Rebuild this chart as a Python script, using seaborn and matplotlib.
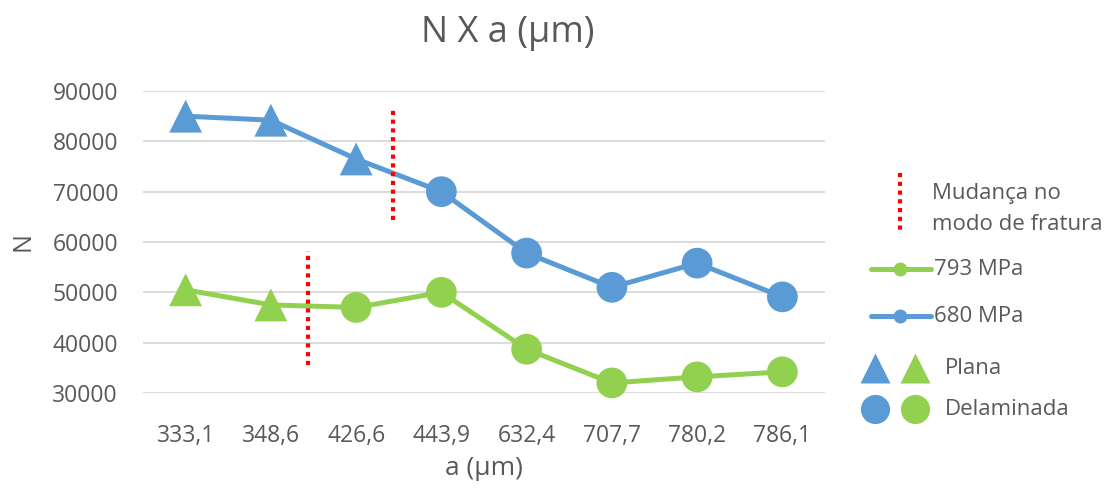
import matplotlib
matplotlib.use("Agg")
import matplotlib.pyplot as plt
import seaborn as sns
import pandas as pd
from matplotlib.lines import Line2D

# ---- data ----
categories = ["333,1", "348,6", "426,6", "443,9", "632,4", "707,7", "780,2", "786,1"]
n_680 = [85000, 84200, 76500, 70000, 57800, 51000, 55800, 49100]
n_793 = [50500, 47500, 47000, 50000, 38700, 32000, 33200, 34200]
mode_680 = ["Plana", "Plana", "Plana", "Delaminada", "Delaminada", "Delaminada", "Delaminada", "Delaminada"]
mode_793 = ["Plana", "Plana", "Delaminada", "Delaminada", "Delaminada", "Delaminada", "Delaminada", "Delaminada"]
# fracture mode change markers (category position, y from, y to)
change_pos = [2.43, 1.44]
change_ymin = [64400, 35500]
change_ymax = [86800, 58200]
yticks = [30000, 40000, 50000, 60000, 70000, 80000, 90000]

BLUE = "#5B9BD5"
GREEN = "#92D050"
RED = "#FF0000"
TXT = "#595959"
GRID = "#D9D9D9"

sns.set_theme(style="white")
plt.rcParams["font.family"] = ["Open Sans", "DejaVu Sans"]

rows = []
for i, c in enumerate(categories):
    rows.append(dict(pos=i, cat=c, N=n_680[i], series="680 MPa", mode=mode_680[i]))
    rows.append(dict(pos=i, cat=c, N=n_793[i], series="793 MPa", mode=mode_793[i]))
df = pd.DataFrame(rows)
palette = {"680 MPa": BLUE, "793 MPa": GREEN}

fig = plt.figure(figsize=(11.11, 4.9), dpi=100)
ax = fig.add_axes([143 / 1111, 1 - 393 / 490, (825 - 143) / 1111, (393 - 91) / 490])

sns.lineplot(data=df, x="pos", y="N", hue="series", palette=palette, linewidth=3.6,
             ax=ax, legend=False, zorder=3)
for mode, marker, s in [("Plana", "^", 560), ("Delaminada", "o", 490)]:
    sub = df[df["mode"] == mode]
    sns.scatterplot(data=sub, x="pos", y="N", hue="series", palette=palette, marker=marker,
                    s=s, linewidth=0, ax=ax, legend=False, zorder=4, clip_on=False)

for x, y0, y1 in zip(change_pos, change_ymin, change_ymax):
    ax.plot([x, x], [y0, y1], color=RED, lw=3, linestyle=(0, (1, 1.1)),
            dash_capstyle="butt", zorder=5)

ax.set_xlim(-0.5, len(categories) - 0.5)
ax.set_ylim(30000, 90000)
ax.set_xticks(range(len(categories)))
ax.set_xticklabels(categories)
ax.set_yticks(yticks)
ax.set_yticklabels([str(v) for v in yticks])
ax.tick_params(axis="both", length=0, labelsize=16.5, colors=TXT)
ax.tick_params(axis="x", pad=22)
ax.tick_params(axis="y", pad=18)
ax.yaxis.grid(True, color=GRID, lw=1.3)
ax.set_axisbelow(True)
for sp in ax.spines.values():
    sp.set_visible(False)
ax.set_xlabel("a (µm)", fontsize=19, color=TXT, labelpad=6)
ax.set_ylabel("N", fontsize=18, color=TXT, labelpad=12)
ax.set_facecolor("none")

fig.text(508 / 1111, 1 - 33 / 490, "N X a (µm)", ha="center", va="center",
         fontsize=26, color=TXT)

# ---- custom legend (pixel coordinates overlay) ----
lg = fig.add_axes([0, 0, 1, 1], zorder=-1)
lg.set_xlim(0, 1111)
lg.set_ylim(490, 0)
lg.axis("off")
lg.plot([900, 900], [173, 232], color=RED, lw=3, linestyle=(0, (1, 1.1)), dash_capstyle="butt")
lg.text(932, 193, "Mudança no", fontsize=16, color=TXT, va="center", ha="left")
lg.text(932, 224, "modo de fratura", fontsize=16, color=TXT, va="center", ha="left")
for y, col, lab in [(269, GREEN, "793 MPa"), (316, BLUE, "680 MPa")]:
    lg.add_line(Line2D([871, 931], [y, y], color=col, lw=3.6, solid_capstyle="round"))
    lg.plot([900], [y], marker="o", ms=10, color=col, mec="none")
    lg.text(934, y, lab, fontsize=16, color=TXT, va="center", ha="left")
lg.plot([875], [368], marker="^", ms=21, color=BLUE, mec="none")
lg.plot([915], [368], marker="^", ms=21, color=GREEN, mec="none")
lg.text(945, 368, "Plana", fontsize=16, color=TXT, va="center", ha="left")
lg.plot([875], [409], marker="o", ms=21, color=BLUE, mec="none")
lg.plot([915], [409], marker="o", ms=21, color=GREEN, mec="none")
lg.text(945, 409, "Delaminada", fontsize=16, color=TXT, va="center", ha="left")

fig.savefig("out.png", dpi=100, facecolor="white")
